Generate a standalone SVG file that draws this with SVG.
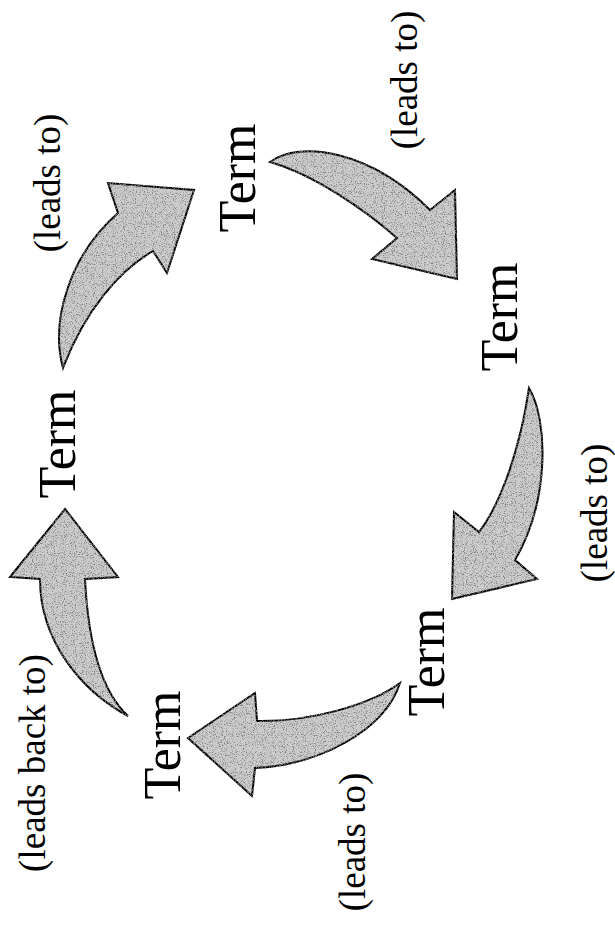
<svg xmlns="http://www.w3.org/2000/svg" width="615" height="925" viewBox="0 0 615 925">
  <style>
    .term { font-family: "Liberation Serif", "Times New Roman", serif; font-size: 52px; fill: #000; text-anchor: middle; }
    .lbl { font-family: "Liberation Serif", "Times New Roman", serif; font-size: 37px; fill: #000; text-anchor: middle; }
    .arrow { fill: #cdcdcd; stroke: #000; stroke-width: 2; stroke-linejoin: miter; filter: url(#grain); }
  </style>
  <defs>
    <filter id="grain" x="-5%" y="-5%" width="110%" height="110%">
      <feTurbulence type="fractalNoise" baseFrequency="0.9" numOctaves="2" seed="7" result="noise"/>
      <feColorMatrix in="noise" type="matrix" values="0 0 0 0 0.2  0 0 0 0 0.2  0 0 0 0 0.2  0 0 0 4 -2" result="dots"/>
      <feComposite in="dots" in2="SourceGraphic" operator="in" result="speck"/>
      <feMerge>
        <feMergeNode in="SourceGraphic"/>
        <feMergeNode in="speck"/>
      </feMerge>
    </filter>
  </defs>
  <rect width="615" height="925" fill="#fff"/>

  <g id="connectors">
    <path id="arrow1" class="arrow" d="M63,368 C50,320 70,255 118,213 L108,183 L194,190 L167,273 L153,251 C120,270 85,310 63,368 Z"/>
    <path id="arrow2" class="arrow" d="M270,162 C300,140 370,150 430,210 L455,190 L457,279 L372,259 L397,238 C365,210 315,175 270,162 Z"/>
    <path id="arrow3" class="arrow" d="M529,388 C548,420 550,500 515,560 L537,579 L452,599 L454,512 L479,532 C500,505 520,450 529,388 Z"/>
    <path id="arrow4" class="arrow" d="M400,683 C385,730 320,765 255,768 L252,796 L188,738 L255,693 L257,721 C310,722 370,705 400,683 Z"/>
    <path id="arrow5" class="arrow" d="M128,716 C80,690 40,640 40,579 L10,577 L65,509 L118,577 L85,579 C88,640 100,690 128,716 Z"/>
    <text class="lbl" transform="translate(60,183) rotate(-90)">(leads to)</text>
    <text class="lbl" transform="translate(417,80) rotate(-90)">(leads to)</text>
    <text class="lbl" transform="translate(607,513) rotate(-90)">(leads to)</text>
    <text class="lbl" transform="translate(365,842) rotate(-90)">(leads to)</text>
    <text class="lbl" transform="translate(45,763) rotate(-90)">(leads back to)</text>
  </g>

  <g id="term-top"><text class="term" transform="translate(255,178) rotate(-90)">Term</text></g>
  <g id="term-right"><text class="term" transform="translate(517,317) rotate(-90)">Term</text></g>
  <g id="term-bottom-right"><text class="term" transform="translate(444,662) rotate(-90)">Term</text></g>
  <g id="term-bottom-left"><text class="term" transform="translate(180,745) rotate(-90)">Term</text></g>
  <g id="term-left"><text class="term" transform="translate(75,444) rotate(-90)">Term</text></g>
</svg>
